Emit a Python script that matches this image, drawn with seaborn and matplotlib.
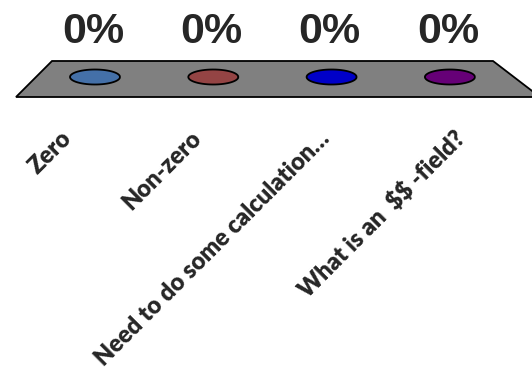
import matplotlib
matplotlib.use("Agg")
import matplotlib.pyplot as plt
import seaborn as sns
import numpy as np
from matplotlib.path import Path
from matplotlib.patches import Polygon

# Data
categories = ["Zero", "Non-zero", "Need to do some calculation\u2026", "What is an  $$ -field?"]
values = [0, 0, 0, 0]
pct_labels = ["0%", "0%", "0%", "0%"]
colors = ["#4470a8", "#944444", "#0000c8", "#660077"]

sns.set_style("white")
plt.rcParams["font.family"] = ["Lato", "DejaVu Sans"]
plt.rcParams["text.parse_math"] = False

W, H = 532, 371
fig = plt.figure(figsize=(W / 100, H / 100), dpi=100)
ax = fig.add_axes([0, 0, 1, 1])

# flat ellipse marker for the zero-height bar tops
t = np.linspace(0, 2 * np.pi, 60)
ellipse = Path(np.column_stack([np.cos(t), 0.3 * np.sin(t)]))

# grey floor (pixel coords, top-left origin)
floor = [(52, 61), (493, 61), (540, 97), (16, 97)]
floor_fig = [(x / W, 1 - y / H) for x, y in floor]
fig.patches.append(Polygon(floor_fig, closed=True, transform=fig.transFigure,
                           facecolor="#808080", edgecolor="black", linewidth=1.3, zorder=-1))

xs = np.arange(len(categories))
sns.scatterplot(x=xs, y=values, hue=categories, palette=colors, marker=ellipse,
                s=1296, edgecolor="black", linewidth=1.3, legend=False, ax=ax, zorder=3)

# zero sits 77 px from the top, one unit per pixel
ax.set_xlim(-95 / 118.3, (W - 95) / 118.3)
ax.set_ylim(77 - H, 77)
ax.axis("off")

for i, (v, lab) in enumerate(zip(values, pct_labels)):
    ax.text(i - 2 / 118.3, v + 34, lab, ha="center", va="baseline", fontsize=31,
            fontweight="bold", family=["Liberation Sans", "DejaVu Sans"])

# category labels sit along the front edge of the floor
offsets = [-35, -23, -13, 3]
for i, (cat, off) in enumerate(zip(categories, offsets)):
    ax.text(i + off / 118.3, 77 - 127, cat, ha="right", va="top", rotation=45,
            rotation_mode="anchor", fontsize=17, fontweight="heavy")

fig.savefig("out.png", dpi=100)
